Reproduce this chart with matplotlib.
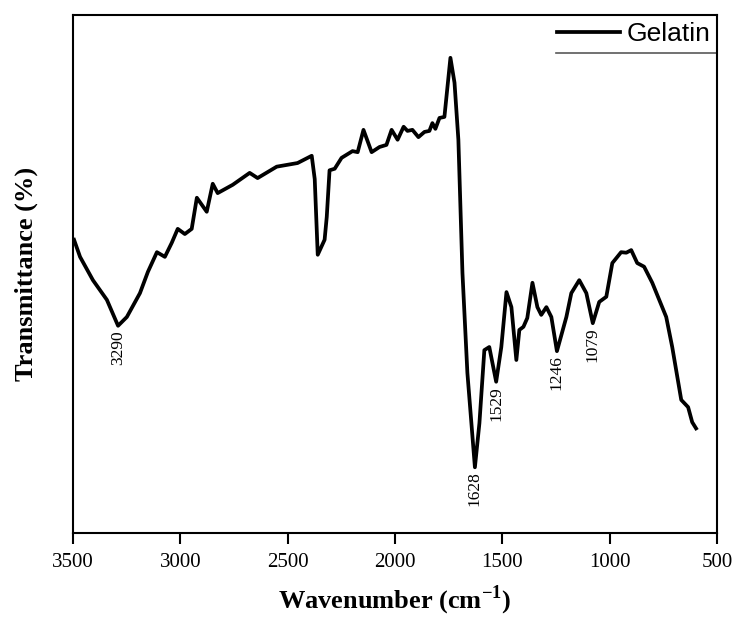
import matplotlib
matplotlib.use("Agg")
import matplotlib.pyplot as plt
from matplotlib.lines import Line2D

# FTIR spectrum of gelatin (wavenumber in cm^-1, transmittance in arbitrary %)
wavenumber = [3495, 3467, 3407, 3342, 3290, 3249, 3188, 3151, 3109, 3072,
              3040, 3012, 2979, 2947, 2923, 2877, 2849, 2826, 2756, 2677,
              2640, 2551, 2454, 2388, 2374, 2360, 2328, 2318, 2305, 2281,
              2249, 2198, 2174, 2147, 2109, 2072, 2040, 2016, 1988, 1960,
              1942, 1919, 1891, 1863, 1840, 1826, 1812, 1793, 1770, 1742,
              1723, 1705, 1686, 1663, 1628, 1607, 1584, 1561, 1529, 1505,
              1481, 1458, 1435, 1421, 1402, 1384, 1360, 1337, 1319, 1295,
              1272, 1246, 1202, 1179, 1142, 1109, 1079, 1049, 1016, 988,
              947, 923, 900, 872, 840, 802, 737, 709, 667, 635, 616, 598]
transmittance = [56.6, 53.3, 48.8, 45.0, 40.0, 41.7, 46.3, 50.4, 54.2, 53.3,
                 56.0, 58.7, 57.7, 58.7, 64.7, 62.0, 67.4, 65.6, 67.2, 69.5,
                 68.5, 70.7, 71.4, 72.8, 68.3, 53.7, 56.6, 61.0, 70.0, 70.3,
                 72.4, 73.7, 73.5, 77.8, 73.5, 74.5, 74.9, 77.8, 75.9, 78.4,
                 77.6, 77.8, 76.4, 77.4, 77.6, 79.1, 78.0, 80.1, 80.3, 91.7,
                 86.9, 75.9, 50.2, 30.9, 12.7, 21.2, 35.3, 35.9, 29.2, 35.9,
                 46.5, 43.6, 33.4, 39.2, 39.8, 41.5, 48.3, 43.6, 42.1, 43.6,
                 41.7, 35.1, 41.7, 46.3, 48.8, 46.3, 40.5, 44.6, 45.6, 52.1,
                 54.2, 54.1, 54.6, 52.1, 51.4, 48.3, 41.7, 35.9, 25.7, 24.3,
                 21.4, 20.2]

# labelled absorption bands
peak_labels = [3290, 1628, 1529, 1246, 1079]

xticks = [3500, 3000, 2500, 2000, 1500, 1000, 500]

serif = "Liberation Serif"
sans = "Liberation Sans"
plt.rcParams["mathtext.fontset"] = "custom"
plt.rcParams["mathtext.rm"] = serif
plt.rcParams["mathtext.bf"] = serif + ":bold"

fig = plt.figure(figsize=(7.37, 6.17), dpi=100)
ax = fig.add_axes([0.099, 0.136, 0.874, 0.840])

ax.plot(wavenumber, transmittance, color="black", lw=2.7,
        solid_joinstyle="round", label="Gelatin")

ax.set_xlim(3500, 500)
ax.set_ylim(0, 100)
ax.set_xticks(xticks)
ax.set_xticklabels([str(t) for t in xticks], fontfamily=serif, fontsize=15)
ax.set_yticks([])
ax.tick_params(axis="x", direction="out", length=8, width=1.5, pad=6,
               colors="black")
for sp in ax.spines.values():
    sp.set_linewidth(1.5)
    sp.set_color("black")

for w in peak_labels:
    t = transmittance[wavenumber.index(w)]
    ax.annotate(str(w), xy=(w, t), xytext=(0, -3), textcoords="offset points",
                rotation=90, ha="center", va="top", fontfamily=serif,
                fontsize=12.5)

ax.set_xlabel("Wavenumber (cm$^{\\mathbf{-1}}$)", fontfamily=serif,
              fontweight="bold", fontsize=19)
ax.xaxis.set_label_coords(0.5, -0.098)
ax.set_ylabel("Transmittance (%)", fontfamily=serif, fontweight="bold",
              fontsize=19)
ax.yaxis.set_label_coords(-0.054, 0.5)

leg = ax.legend(loc="center left", bbox_to_anchor=(0.7516, 0.963),
                frameon=False, borderaxespad=0, borderpad=0,
                handlelength=2.4, handletextpad=0.25,
                prop={"family": sans, "size": 19})
ax.add_line(Line2D([0.75, 1.0], [0.927, 0.927], transform=ax.transAxes,
                   color="0.35", lw=1.2, clip_on=False))

fig.savefig("out.png", dpi=100, facecolor="white")
